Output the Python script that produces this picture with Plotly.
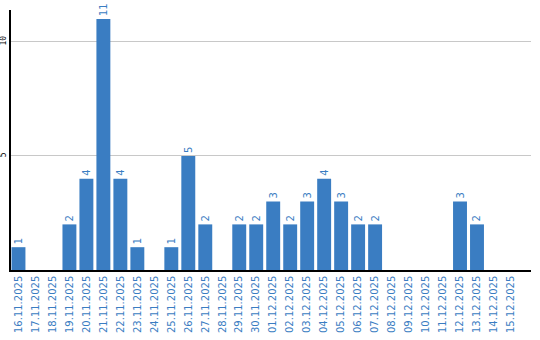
import plotly.graph_objects as go

dates = ["16.11.2025","17.11.2025","18.11.2025","19.11.2025","20.11.2025","21.11.2025",
         "22.11.2025","23.11.2025","24.11.2025","25.11.2025","26.11.2025","27.11.2025",
         "28.11.2025","29.11.2025","30.11.2025","01.12.2025","02.12.2025","03.12.2025",
         "04.12.2025","05.12.2025","06.12.2025","07.12.2025","08.12.2025","09.12.2025",
         "10.12.2025","11.12.2025","12.12.2025","13.12.2025","14.12.2025","15.12.2025"]
values = [1,0,0,2,4,11,4,1,0,1,5,2,0,2,2,3,2,3,4,3,2,2,0,0,0,0,3,2,0,0]
y_ticks = [5, 10]

blue = "#3a7dc2"
labels = [str(v) if v > 0 else "" for v in values]

fig = go.Figure(go.Bar(
    x=list(range(len(dates))), y=values, text=labels,
    textposition="outside", textangle=-90, cliponaxis=False,
    textfont=dict(color=blue, size=10, family="DejaVu Sans"),
    marker=dict(color=blue, line=dict(width=0)),
    width=0.82,
))
fig.update_layout(
    width=540, height=340,
    margin=dict(l=10.5, r=9, t=10, b=70),
    paper_bgcolor="white", plot_bgcolor="white",
    showlegend=False,
    xaxis=dict(tickmode="array", tickvals=list(range(len(dates))), ticktext=dates,
               tickangle=-90, range=[-0.44, 30.18], automargin=False,
               tickfont=dict(color=blue, size=10, family="DejaVu Sans"),
               showgrid=False, showline=True, linecolor="black", linewidth=1.5,
               ticks="", zeroline=False),
    yaxis=dict(range=[0, 11.4], tickvals=y_ticks, ticktext=[str(t) for t in y_ticks],
               tickangle=-90, automargin=False,
               tickfont=dict(color="black", size=8, family="DejaVu Sans Mono"),
               showgrid=True, gridcolor="#c8c8c8", gridwidth=1,
               showline=True, linecolor="black", linewidth=1.5,
               ticks="", zeroline=False, ticklabelstandoff=0),
)
fig.write_html("out.html")
